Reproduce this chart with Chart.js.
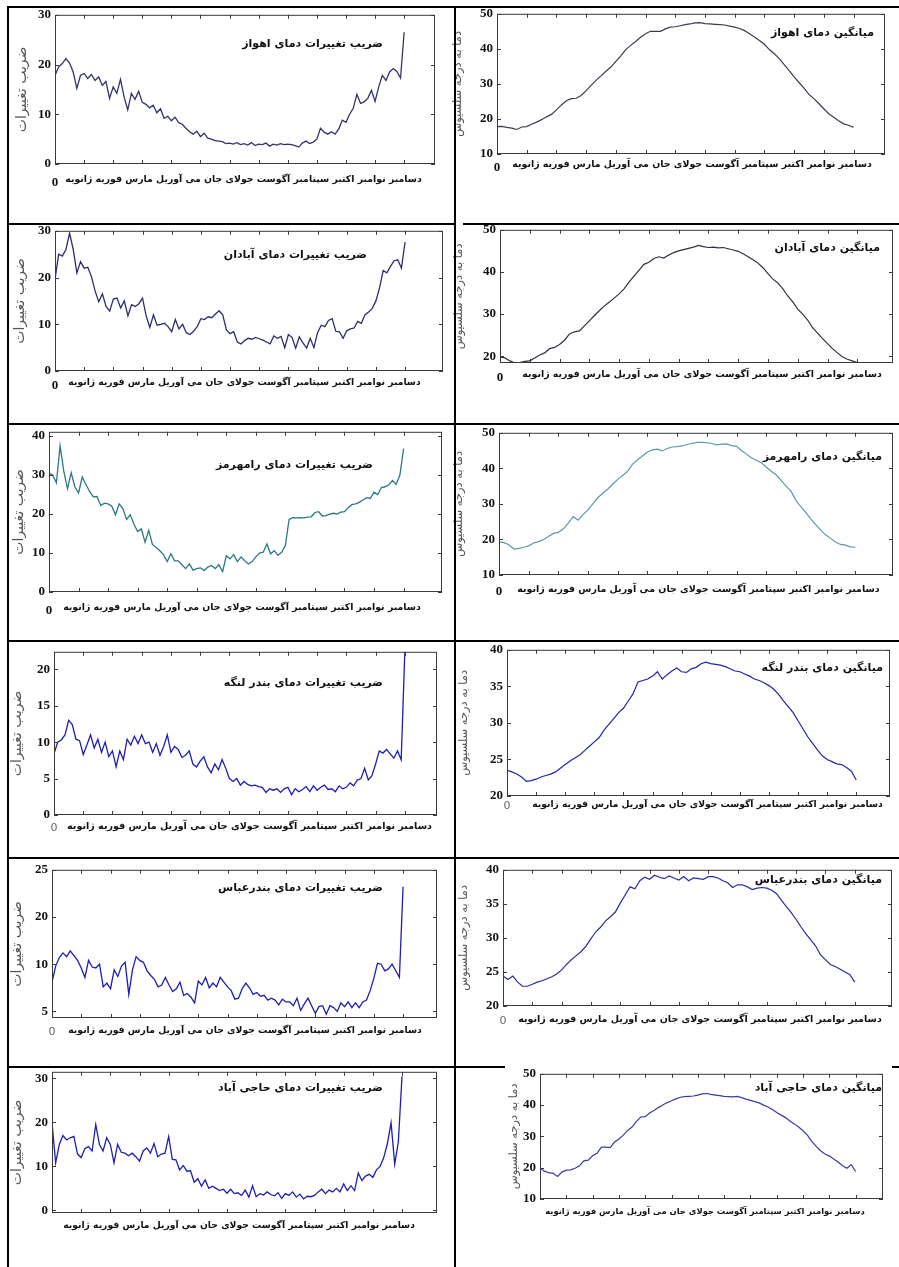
<!DOCTYPE html>
<html>
<head>
<meta charset="utf-8">
<script src="https://cdn.jsdelivr.net/npm/chart.js@4"></script>
<style>
body { margin: 0; background: #fff; }
#page { position: relative; width: 899px; height: 1267px; overflow: hidden; background: #fff; }
#page canvas { position: absolute; }
.rule { position: absolute; background: #000; z-index: 2; }
</style>
</head>
<body>
<div id="page"></div>
<script>
// month names, x tick marks and axis titles
var months = ['ژانویه', 'فوریه', 'مارس', 'آوریل', 'می', 'جان', 'جولای', 'آگوست', 'سپتامبر', 'اکتبر', 'نوامبر', 'دسامبر'];
var monthTicks = [1, 2, 3, 4, 5, 6, 7, 8, 9, 10, 11, 12];
var cvAxisTitle = 'ضریب تغییرات';
var tempAxisTitle = 'دما به درجه سلسیوس';

// y tick values
var ticksCV30 = [0, 10, 20, 30];
var ticksCV40 = [0, 10, 20, 30, 40];
var ticksCV20 = [0, 5, 10, 15, 20];
var ticksAbbasCV = [5, 10, 15, 20];
var labelsAbbasCV = ['5', '10', '20', '25'];
var ticksT10to50 = [10, 20, 30, 40, 50];
var ticksT20to50 = [20, 30, 40, 50];
var ticksT20to40 = [20, 25, 30, 35, 40];

// coefficient of variation, 8 samples per month (Jan..Dec)
var ahvazCV = [17.8,19.5,20.2,21.2,20.3,18.5,15.2,17.8,18.2,17.2,18.0,16.8,17.5,15.8,16.6,13.2,15.5,14.2,17.0,13.5,10.9,14.2,13.0,14.6,12.4,12.0,11.3,11.8,10.3,11.1,9.2,9.6,8.7,9.4,8.3,8.0,7.2,6.5,6.0,6.6,5.5,6.2,5.2,5.0,4.7,4.6,4.5,4.1,4.2,4.0,4.3,3.9,4.1,3.8,4.3,3.7,4.0,3.9,4.2,3.6,4.0,3.8,4.1,3.9,4.0,3.9,3.7,3.4,4.2,4.6,4.1,4.4,5.0,7.2,6.4,6.0,6.5,6.0,7.0,8.8,8.4,10.0,11.2,14.0,12.2,12.5,13.2,14.8,12.6,15.5,17.8,16.8,18.5,19.2,18.6,17.3,26.5];
var abadanCV = [19.6,25.0,24.6,26.0,29.5,26.0,21.0,23.4,22.0,22.2,20.2,17.1,14.8,16.5,13.8,12.8,15.4,15.6,13.5,15.0,11.8,14.2,13.8,14.4,15.6,11.8,9.3,12.0,9.8,10.0,10.2,9.5,8.4,11.0,9.0,10.0,8.2,7.8,8.5,9.5,11.2,11.0,11.6,11.4,12.2,12.9,12.0,8.8,8.0,8.4,6.2,5.8,6.5,7.0,6.8,7.2,6.9,6.6,6.2,5.8,7.5,7.0,7.4,5.0,7.8,7.2,4.9,7.3,6.0,4.9,7.0,5.0,8.2,9.8,9.5,10.8,11.2,8.5,8.4,7.0,8.6,9.0,9.2,10.6,10.2,12.0,12.6,13.4,15.0,17.8,21.5,21.0,22.4,23.6,23.8,22.0,27.6];
var ramCV = [30.5,30.0,28.0,37.5,31.0,26.5,30.6,27.0,25.4,29.5,27.6,25.8,24.4,24.5,22.2,22.8,22.6,22.0,19.8,22.6,21.4,18.6,19.8,17.4,15.5,16.2,12.8,15.8,12.2,11.4,10.6,9.6,7.8,9.8,8.0,8.0,7.0,6.0,7.2,5.6,6.0,6.2,5.5,6.4,6.8,6.0,7.0,5.2,9.3,8.5,9.6,7.8,9.0,8.0,7.2,7.8,9.0,10.0,10.2,12.3,9.8,10.6,9.4,10.2,12.0,18.6,19.1,19.0,19.1,19.0,19.2,19.3,20.4,20.6,19.5,19.6,20.0,20.2,20.0,20.5,20.6,21.6,22.4,22.6,23.0,23.6,24.2,24.0,25.6,25.0,26.8,27.0,27.5,28.6,27.6,30.0,36.8];
var lengehCV = [8.4,10.0,10.3,11.0,13.0,12.4,10.4,10.2,8.3,9.6,11.0,9.2,10.4,8.6,10.0,8.0,8.8,6.6,8.8,7.6,10.4,9.6,10.8,9.8,11.0,9.8,10.0,8.6,9.8,8.2,9.4,11.0,8.6,9.4,9.0,7.9,8.2,8.8,7.0,6.6,7.4,8.0,6.6,5.8,7.0,6.2,7.6,6.4,5.0,4.6,5.0,4.1,4.6,4.2,4.0,4.1,3.9,3.8,3.1,3.6,3.4,3.6,3.1,3.6,3.8,2.8,3.6,3.2,3.5,3.9,3.2,4.0,3.4,3.8,4.1,3.5,3.6,3.2,4.0,3.6,3.8,4.4,4.0,4.8,5.0,6.4,4.8,5.4,7.0,8.8,8.5,9.0,8.4,7.8,8.8,7.6,22.4];
var abbasCV = [8.1,9.8,10.7,11.2,10.8,11.4,10.9,10.4,9.6,8.6,10.4,9.7,9.6,10.0,7.6,8.0,7.4,9.4,8.7,9.8,10.2,6.8,9.4,10.8,10.4,10.2,9.3,8.8,8.4,7.6,7.8,8.6,7.8,7.1,7.4,8.1,6.7,6.9,6.5,5.9,8.2,7.8,8.6,7.5,8.0,7.6,8.6,8.1,7.6,7.2,6.3,6.4,7.4,8.0,7.5,6.8,7.0,6.6,6.7,6.2,6.4,6.2,5.7,6.3,6.0,6.0,5.6,6.4,5.1,5.8,6.4,5.6,4.8,5.5,5.6,4.7,5.6,5.4,5.0,5.9,5.5,6.0,5.4,5.9,5.4,6.0,6.2,7.2,8.5,10.1,10.0,9.3,9.5,10.0,9.3,8.6,18.2];
var hajiCV = [19.9,10.8,15.0,17.0,16.0,16.5,16.8,12.8,12.0,14.0,14.5,13.5,19.5,15.0,13.5,16.5,15.0,10.8,15.0,13.2,13.0,12.4,13.0,12.2,11.2,13.5,14.2,13.0,15.2,12.2,12.8,13.0,16.8,11.6,11.5,9.2,10.2,8.9,9.0,6.4,7.2,5.5,6.9,5.0,5.5,5.0,4.5,4.8,3.9,4.8,3.8,4.0,3.4,4.6,3.0,5.6,3.1,3.8,3.5,4.2,3.6,3.3,4.0,2.7,3.8,3.4,4.2,3.0,3.7,2.6,3.2,3.1,3.4,4.2,4.8,3.8,4.6,4.2,5.0,4.2,6.0,4.5,5.6,4.5,8.5,6.8,7.8,8.2,7.5,9.2,10.0,12.0,15.2,19.9,10.5,15.6,30.5];

// mean temperature, 6 samples per month (Jan..Dec)
var ahvazT = [17.8,17.9,17.6,17.4,17.0,17.7,17.8,18.5,19.1,19.8,20.6,21.3,22.6,24.0,25.2,25.8,25.9,26.7,28.1,29.6,31.0,32.3,33.6,34.8,36.4,38.0,39.8,41.0,42.1,43.3,44.3,45.0,45.0,45.0,45.7,46.2,46.3,46.6,46.9,47.1,47.4,47.5,47.2,47.1,47.0,46.9,46.8,46.5,46.2,45.8,45.2,44.3,43.4,42.4,41.3,39.8,38.6,37.2,35.5,33.8,32.0,30.4,28.8,27.0,25.8,24.4,22.9,21.5,20.5,19.5,18.6,18.2,17.6];
var abadanT = [19.8,19.6,18.9,18.4,18.5,18.8,18.9,19.6,20.3,20.8,21.8,22.1,22.8,23.8,25.3,25.8,26.0,27.2,28.4,29.6,30.8,31.9,32.8,33.8,34.8,36.0,37.6,39.0,40.4,41.8,42.3,43.2,43.6,43.3,44.0,44.6,45.0,45.3,45.6,45.9,46.3,46.0,45.8,45.9,45.7,45.8,45.5,45.2,44.9,44.3,43.6,42.9,42.1,41.0,39.6,38.3,37.4,36.0,34.3,32.9,31.2,30.0,28.6,26.8,25.5,24.2,23.0,21.8,20.8,19.9,19.3,18.9,18.5];
var ramT = [19.3,19.1,18.5,17.3,17.5,17.8,18.2,19.0,19.4,20.0,20.8,21.7,22.0,23.0,24.6,26.4,25.4,27.0,28.4,30.1,31.8,33.0,34.2,35.6,36.9,38.0,39.2,41.2,42.4,43.5,44.6,45.2,45.4,44.9,45.6,46.0,46.1,46.3,46.7,47.0,47.3,47.3,47.2,47.0,46.6,46.8,46.9,46.4,46.2,45.0,44.0,43.0,42.3,41.6,40.4,39.2,38.2,36.6,35.0,33.6,31.0,29.2,27.6,25.8,24.2,22.6,21.3,20.3,19.3,18.6,18.4,17.9,17.8];
var lengehT = [23.5,23.3,23.0,22.6,22.0,22.1,22.3,22.6,22.8,23.0,23.3,23.8,24.3,24.8,25.2,25.6,26.2,26.8,27.4,28.0,29.0,29.8,30.6,31.4,32.0,33.0,34.0,35.6,35.8,36.0,36.4,37.0,36.0,36.6,37.1,37.5,37.0,36.9,37.4,37.6,38.1,38.3,38.1,38.0,37.9,37.7,37.4,37.1,37.0,36.7,36.4,36.0,35.8,35.5,35.1,34.6,33.9,33.0,32.2,31.4,30.3,29.2,28.1,27.2,26.3,25.5,25.0,24.7,24.4,24.3,23.9,23.4,22.2];
var abbasT = [24.4,23.9,24.4,23.5,22.9,22.9,23.2,23.5,23.7,24.0,24.3,24.7,25.3,26.1,26.8,27.4,28.0,28.8,29.9,30.9,31.6,32.5,33.1,33.8,35.1,36.3,37.5,37.2,38.4,38.9,38.6,39.2,38.9,38.7,39.1,38.8,38.5,39.0,38.4,38.8,38.7,38.6,39.0,39.0,38.8,38.4,38.1,37.4,37.8,37.8,37.5,37.1,37.3,37.4,37.3,37.0,36.5,35.5,34.6,33.7,32.7,31.6,30.6,29.7,28.8,27.5,26.8,26.1,25.8,25.4,25.0,24.6,23.5];
var hajiT = [19.9,18.9,18.4,18.2,17.2,18.6,19.2,19.3,19.8,20.6,22.2,22.4,23.8,24.6,26.6,26.6,26.4,28.2,29.2,30.4,31.9,33.0,34.8,36.2,36.3,37.5,38.3,39.2,40.0,40.8,41.4,42.0,42.5,42.7,42.8,42.9,43.2,43.6,43.7,43.4,43.2,43.0,42.8,42.7,42.6,42.8,42.4,41.9,41.5,41.1,40.7,40.0,39.4,38.6,37.6,36.8,36.0,34.9,34.0,33.0,31.8,30.4,28.4,26.8,25.4,24.4,23.7,22.8,21.8,20.6,19.8,21.0,18.8];

var FA = '"DejaVu Sans", sans-serif';
var NUM = '"Liberation Serif", "Times New Roman", serif';
var PT = 10, PR = 8, XH = 30;

// layout of the 12 panels: plot box [left, top, right, bottom] in page px
var panels = [
  {data: ahvazCV, yTicks: ticksCV30, title: 'ضریب تغییرات دمای اهواز', yTitle: cvAxisTitle, color: '#34346c',
   box: [55, 13, 435, 164], y: [0, 30], xMax: 13.06, yw: 45, titleAt: [383, 44], monthsAt: [65, 422, 180], zero: 'bold'},
  {data: ahvazT, yTicks: ticksT10to50, title: 'میانگین دمای اهواز', yTitle: tempAxisTitle, color: '#3c3c52',
   box: [497, 12, 885, 154], y: [10, 50], xMax: 13.06, yw: 50, titleAt: [874, 33], monthsAt: [512, 872, 165], zero: 'bold'},
  {data: abadanCV, yTicks: ticksCV30, title: 'ضریب تغییرات دمای آبادان', yTitle: cvAxisTitle, color: '#2d2d6e',
   box: [55, 229, 443, 371], y: [0, 30], xMax: 13.3, yw: 47, titleAt: [367, 255], monthsAt: [68, 421, 383], zero: 'bold'},
  {data: abadanT, yTicks: ticksT20to50, title: 'میانگین دمای آبادان', yTitle: tempAxisTitle, color: '#303042',
   box: [500, 228, 893, 363], y: [18.4, 50], xMax: 13.2, yw: 52, titleAt: [880, 248], monthsAt: [522, 882, 375], zero: 'bold'},
  {data: ramCV, yTicks: ticksCV40, title: 'ضریب تغییرات دمای رامهرمز', yTitle: cvAxisTitle, color: '#2c7884',
   box: [49, 430, 442, 592], y: [0, 41.1], xMax: 13.3, yw: 42, titleAt: [373, 465], monthsAt: [63, 421, 608], zero: 'bold'},
  {data: ramT, yTicks: ticksT10to50, title: 'میانگین دمای رامهرمز', yTitle: tempAxisTitle, color: '#5b9aa2',
   box: [499, 431, 893, 575], y: [10, 50], xMax: 13.27, yw: 51, titleAt: [882, 457], monthsAt: [517, 880, 590], zero: 'bold'},
  {data: lengehCV, yTicks: ticksCV20, title: 'ضریب تغییرات دمای بندر لنگه', yTitle: cvAxisTitle, color: '#1e1eb4',
   box: [54, 650, 437, 815], y: [0, 22.4], xMax: 13.1, yw: 49, titleAt: [383, 683], monthsAt: [67, 432, 827], zero: 'light'},
  {data: lengehT, yTicks: ticksT20to40, title: 'میانگین دمای بندر لنگه', yTitle: tempAxisTitle, color: '#2424a8',
   box: [507, 648, 890, 796], y: [20, 40], xMax: 13.16, yw: 54, titleAt: [883, 668], monthsAt: [532, 883, 805], zero: 'light'},
  {data: abbasCV, yTicks: ticksAbbasCV, yLabels: labelsAbbasCV, title: 'ضریب تغییرات دمای بندرعباس', yTitle: cvAxisTitle, color: '#1e1eb0',
   box: [52, 868, 437, 1018], y: [4.3, 20], xMax: 13.16, yw: 47, titleAt: [383, 888], monthsAt: [68, 422, 1031], zero: 'light'},
  {data: abbasT, yTicks: ticksT20to40, title: 'میانگین دمای بندرعباس', yTitle: tempAxisTitle, color: '#2a2aa6',
   box: [503, 868, 892, 1006], y: [20, 40], xMax: 13.27, yw: 50, titleAt: [882, 880], monthsAt: [518, 882, 1020], zero: 'light'},
  {data: hajiCV, yTicks: ticksCV30, title: 'ضریب تغییرات دمای حاجی آباد', yTitle: cvAxisTitle, color: '#1e1eb4',
   box: [52, 1070, 437, 1213], y: [-0.6, 31.5], xMax: 13.2, yw: 47, titleAt: [383, 1088], monthsAt: [63, 415, 1226], zero: null},
  {data: hajiT, yTicks: ticksT10to50, title: 'میانگین دمای حاجی آباد', yTitle: tempAxisTitle, color: '#3a3aa4',
   box: [540, 1072, 883, 1199], y: [10, 50], xMax: 13.04, yw: 37, titleAt: [882, 1088], monthsAt: [545, 865, 1212], zero: null}
];

// table rules: [left, top, width, height]
var rules = [
  [7, 6, 892, 2], [7, 6, 2, 1261], [454, 6, 2, 1261],
  [7, 223, 448, 2], [463, 223, 436, 2],
  [7, 423, 892, 2], [7, 640, 892, 2], [7, 857, 892, 2],
  [7, 1066, 498, 2], [892, 1066, 7, 2]
];

var page = document.getElementById('page');
var meas = document.createElement('canvas').getContext('2d');

// font size that makes text fill a given width
function fitSize(text, weight, family, width, maxSize) {
  meas.font = weight + ' 20px ' + family;
  var w = meas.measureText(text).width;
  return Math.min(maxSize, 20 * width / w);
}

function pts(arr) {
  var n = arr.length - 1;
  return arr.map(function (v, i) { return {x: i * 12 / n, y: v}; });
}

// rtl run: last logical word ends up leftmost, so January goes last
var monthLine = months.slice().reverse().join(' ');
var cvTitleSize = fitSize(cvAxisTitle, 'normal', FA, 90, 14);
var tempTitleSize = fitSize(tempAxisTitle, 'normal', FA, 106, 13);

function drawFrame(chart, p, cl, ct) {
  var a = chart.chartArea, ctx = chart.ctx;
  var xs = chart.scales.x, ys = chart.scales.y;
  ctx.save();
  ctx.strokeStyle = '#3a3a3a';
  ctx.lineWidth = 1;
  ctx.strokeRect(a.left + 0.5, a.top + 0.5, a.right - a.left - 1, a.bottom - a.top - 1);
  ctx.beginPath();
  monthTicks.forEach(function (m) {
    var x = Math.round(xs.getPixelForValue(m)) + 0.5;
    ctx.moveTo(x, a.bottom); ctx.lineTo(x, a.bottom - 4);
    ctx.moveTo(x, a.top); ctx.lineTo(x, a.top + 4);
  });
  p.yTicks.forEach(function (v) {
    var y = Math.round(ys.getPixelForValue(v)) + 0.5;
    ctx.moveTo(a.left, y); ctx.lineTo(a.left + 4, y);
    ctx.moveTo(a.right, y); ctx.lineTo(a.right - 4, y);
  });
  ctx.stroke();
  // in-plot title, right end anchored
  ctx.font = 'bold 11px ' + FA;
  ctx.fillStyle = '#111';
  ctx.textAlign = 'right';
  ctx.textBaseline = 'middle';
  ctx.fillText(p.title, p.titleAt[0] - cl, p.titleAt[1] - ct);
  ctx.restore();
}

panels.forEach(function (p, k) {
  var L = p.box[0], T = p.box[1], R = p.box[2], B = p.box[3];
  var cl = L - p.yw, ct = T - PT;
  var cv = document.createElement('canvas');
  cv.width = p.yw + (R - L) + PR;
  cv.height = PT + (B - T) + XH;
  cv.style.left = cl + 'px';
  cv.style.top = ct + 'px';
  page.appendChild(cv);

  var mSize = fitSize(monthLine, 'bold', FA, p.monthsAt[1] - p.monthsAt[0], 12);
  var xt = [];
  if (p.zero) {
    xt.push({value: 0, label: '0',
      font: p.zero === 'bold' ? {family: NUM, size: 13, weight: 'bold'} : {family: FA, size: 11, weight: 'normal'},
      color: p.zero === 'bold' ? '#111' : '#666'});
  }
  var mid = (p.monthsAt[0] + p.monthsAt[1]) / 2;
  xt.push({value: (mid - L) / (R - L) * p.xMax, label: monthLine,
    font: {family: FA, size: mSize, weight: 'bold'}, color: '#111'});
  var pad = p.monthsAt[2] - B - 0.6 * mSize;
  var isCV = p.yTitle === cvAxisTitle;

  new Chart(cv, {
    type: 'line',
    data: {
      datasets: [{
        data: pts(p.data),
        borderColor: p.color,
        borderWidth: isCV ? 1.3 : 1.2,
        pointRadius: 0,
        tension: 0,
        fill: false
      }]
    },
    options: {
      responsive: false,
      animation: false,
      devicePixelRatio: 1,
      layout: {padding: {left: 0, right: PR, top: PT, bottom: 0}},
      plugins: {legend: {display: false}, tooltip: {enabled: false}},
      scales: {
        x: {
          type: 'linear', min: 0, max: p.xMax,
          grid: {display: false, drawTicks: false},
          border: {display: false},
          afterBuildTicks: function (ax) { ax.ticks = xt.map(function (t) { return {value: t.value}; }); },
          afterFit: function (ax) { ax.height = XH; },
          ticks: {
            autoSkip: false, maxRotation: 0, minRotation: 0, padding: pad,
            callback: function (v, i) { return xt[i] ? xt[i].label : ''; },
            font: function (c) { return (xt[c.index] || xt[0]).font; },
            color: function (c) { return (xt[c.index] || xt[0]).color; }
          }
        },
        y: {
          type: 'linear', min: p.y[0], max: p.y[1],
          grid: {display: false, drawTicks: false},
          border: {display: false},
          afterBuildTicks: function (ax) { ax.ticks = p.yTicks.map(function (v) { return {value: v}; }); },
          afterFit: function (ax) { ax.width = p.yw; },
          ticks: {
            autoSkip: false, padding: 4,
            callback: function (v, i) { return p.yLabels ? p.yLabels[i] : String(p.yTicks[i]); },
            font: {family: NUM, size: 13, weight: 'bold'},
            color: '#111'
          },
          title: {
            display: true, text: p.yTitle, color: '#555',
            font: {family: FA, size: isCV ? cvTitleSize : tempTitleSize}
          }
        }
      }
    },
    plugins: [{id: 'frame' + k, afterDraw: function (chart) { drawFrame(chart, p, cl, ct); }}]
  });
});

rules.forEach(function (r) {
  var d = document.createElement('div');
  d.className = 'rule';
  d.style.left = r[0] + 'px';
  d.style.top = r[1] + 'px';
  d.style.width = r[2] + 'px';
  d.style.height = r[3] + 'px';
  page.appendChild(d);
});
</script>
</body>
</html>
